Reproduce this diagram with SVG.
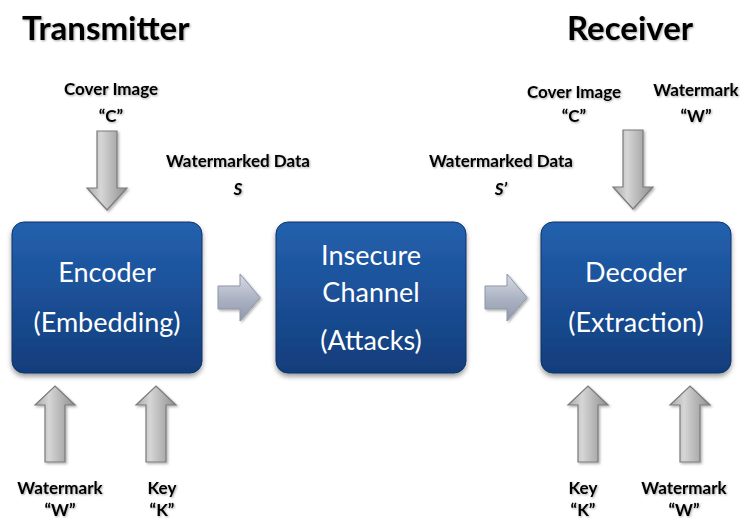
<svg xmlns="http://www.w3.org/2000/svg" width="740" height="519" viewBox="0 0 740 519">
  <defs>
    <style>
      .title { font-family: Lato, "Liberation Sans", sans-serif; font-weight: 700; font-size: 33px; fill: #000; }
      .lbl { font-family: Lato, "Liberation Sans", sans-serif; font-weight: 700; font-size: 17px; fill: #000; text-anchor: middle; }
      .sym { font-family: Lato, "Liberation Sans", sans-serif; font-weight: 700; font-style: italic; font-size: 17px; fill: #000; text-anchor: middle; }
      .box { fill: url(#boxFill); stroke: #0f3566; stroke-width: 1; filter: url(#boxShadow); }
      .boxText { font-family: Lato, "Liberation Sans", sans-serif; font-size: 27px; fill: #fff; text-anchor: middle; }
      .vArrow { fill: url(#grayFill); stroke: #7a7a7a; stroke-width: 1.2; stroke-linejoin: miter; filter: url(#arrowShadow); }
      .hArrow { fill: url(#blueGrayFill); stroke: #8d95a6; stroke-width: 1; filter: url(#arrowShadow); }
    </style>
    <linearGradient id="boxFill" x1="0" y1="0" x2="0" y2="1">
      <stop offset="0" stop-color="#2361ae"/>
      <stop offset="0.5" stop-color="#1b4f96"/>
      <stop offset="1" stop-color="#113d7b"/>
    </linearGradient>
    <linearGradient id="grayFill" x1="0" y1="0" x2="1" y2="0">
      <stop offset="0" stop-color="#a8a8a8"/>
      <stop offset="0.35" stop-color="#d6d6d6"/>
      <stop offset="1" stop-color="#8f8f8f"/>
    </linearGradient>
    <linearGradient id="blueGrayFill" x1="0" y1="0" x2="0" y2="1">
      <stop offset="0" stop-color="#d8dce6"/>
      <stop offset="0.5" stop-color="#adb4c4"/>
      <stop offset="1" stop-color="#8f98ab"/>
    </linearGradient>
    <filter id="boxShadow" x="-10%" y="-10%" width="125%" height="130%">
      <feDropShadow dx="0" dy="3" stdDeviation="2.5" flood-color="#000" flood-opacity="0.4"/>
    </filter>
    <filter id="arrowShadow" x="-20%" y="-20%" width="150%" height="150%">
      <feDropShadow dx="1.5" dy="1.5" stdDeviation="1" flood-color="#000" flood-opacity="0.3"/>
    </filter>
    <filter id="textShadow" x="-5%" y="-20%" width="115%" height="150%">
      <feDropShadow dx="1" dy="1" stdDeviation="0.8" flood-color="#000" flood-opacity="0.35"/>
    </filter>
    <!-- arrow shapes, positioned per use -->
    <path id="downArrow" d="M -10 0 H 10 V 57 H 20 L 0 79 L -20 57 H -10 Z"/>
    <path id="upArrow" d="M -10 76 V 19 H -20 L 0 0 L 20 19 H 10 V 76 Z"/>
    <path id="rightArrow" d="M 0 12 H 22 V 0 L 42 23.5 L 22 47 V 35 H 0 Z"/>
  </defs>

  <rect width="740" height="519" fill="#fff"/>

  <!-- headings -->
  <g filter="url(#textShadow)">
    <text class="title" x="22" y="40">Transmitter</text>
    <text class="title" x="567" y="40">Receiver</text>
  </g>

  <!-- labels -->
  <g id="labels" filter="url(#textShadow)">
    <text class="lbl" x="111" y="95">Cover Image</text>
    <text class="lbl" x="111" y="122">“C”</text>
    <text class="lbl" x="238" y="167">Watermarked Data</text>
    <text class="sym" x="238" y="195">S</text>
    <text class="lbl" x="501" y="167">Watermarked Data</text>
    <text class="sym" x="501" y="195">S’</text>
    <text class="lbl" x="574" y="98">Cover Image</text>
    <text class="lbl" x="574" y="122">“C”</text>
    <text class="lbl" x="696" y="96">Watermark</text>
    <text class="lbl" x="696" y="122">“W”</text>
    <text class="lbl" x="60" y="494">Watermark</text>
    <text class="lbl" x="60" y="516">“W”</text>
    <text class="lbl" x="162" y="494">Key</text>
    <text class="lbl" x="162" y="516">“K”</text>
    <text class="lbl" x="583" y="494">Key</text>
    <text class="lbl" x="583" y="516">“K”</text>
    <text class="lbl" x="684" y="494">Watermark</text>
    <text class="lbl" x="684" y="516">“W”</text>
  </g>

  <!-- nodes -->
  <g id="encoder">
    <rect class="box" x="12" y="222" width="190" height="151" rx="12"/>
    <text class="boxText" x="107" y="282">Encoder</text>
    <text class="boxText" x="107" y="332">(Embedding)</text>
  </g>
  <g id="channel">
    <rect class="box" x="276" y="222" width="190" height="151" rx="12"/>
    <text class="boxText" x="371" y="265">Insecure</text>
    <text class="boxText" x="371" y="302">Channel</text>
    <text class="boxText" x="371" y="350">(Attacks)</text>
  </g>
  <g id="decoder">
    <rect class="box" x="541" y="222" width="190" height="151" rx="12"/>
    <text class="boxText" x="636" y="282">Decoder</text>
    <text class="boxText" x="636" y="332">(Extraction)</text>
  </g>

  <!-- connectors -->
  <g id="connectors">
    <use href="#downArrow" class="vArrow" x="107" y="131"/>
    <use href="#downArrow" class="vArrow" x="633" y="130"/>
    <use href="#upArrow" class="vArrow" x="55" y="386"/>
    <use href="#upArrow" class="vArrow" x="156" y="386"/>
    <use href="#upArrow" class="vArrow" x="588" y="386"/>
    <use href="#upArrow" class="vArrow" x="690" y="386"/>
    <use href="#rightArrow" class="hArrow" x="218" y="274"/>
    <use href="#rightArrow" class="hArrow" x="485" y="274"/>
  </g>
</svg>
